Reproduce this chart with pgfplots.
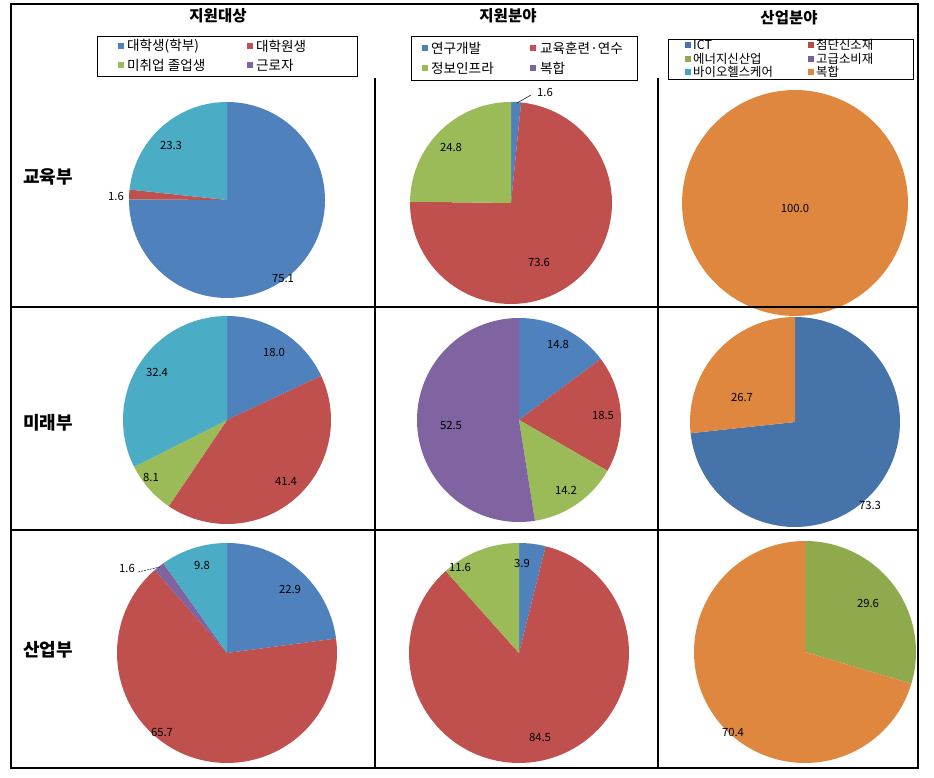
\documentclass[border=0pt]{standalone}
\usepackage{pgfplots}
\pgfplotsset{compat=1.18}
\usepackage{fontspec}
\setmainfont{Noto Sans CJK KR}
\definecolor{cBlue}{HTML}{4F81BD}
\definecolor{cRed}{HTML}{C0504D}
\definecolor{cGreen}{HTML}{9BBB59}
\definecolor{cPurple}{HTML}{8064A2}
\definecolor{cCyan}{HTML}{4BACC6}
\definecolor{dBlue}{HTML}{4573AA}
\definecolor{dGreen}{HTML}{8EAA4D}
\definecolor{dOrange}{HTML}{E0873F}
\definecolor{dRed}{HTML}{B84A48}
\definecolor{dPurple}{HTML}{7A5E9C}
\definecolor{dCyan}{HTML}{46A5BE}

% slices: value/colour pairs, clockwise from 12 o'clock, shares of their total
\newcommand{\pieslices}[1]{%
  \gdef\pietotal{0}%
  \foreach \v/\c in {#1}{%
    \pgfmathsetmacro\newtot{\pietotal+\v}%
    \xdef\pietotal{\newtot}%
  }%
  \pgfmathsetmacro\piek{100/\pietotal}%
  \xdef\piek{\piek}%
  \gdef\cumsum{0}%
  \foreach \v/\c in {#1}{%
    \pgfmathsetmacro\aA{90-3.6*\cumsum*\piek}%
    \pgfmathsetmacro\newcum{\cumsum+\v}%
    \xdef\cumsum{\newcum}%
    \pgfmathsetmacro\aB{90-3.6*\cumsum*\piek}%
    \edef\doslice{\noexpand\addplot[draw=none, fill=\c, domain=\aB:\aA, samples=90, variable=\noexpand\t]
      ({cos(\noexpand\t)},{sin(\noexpand\t)}) -- (axis cs:0,0) -- cycle;}%
    \doslice
  }%
}
% pie: centre x, centre y (pixels from top-left), radius, slices
\newcommand{\pie}[4]{%
  \pgfmathsetmacro\dd{2*#3}%
  \pgfmathsetmacro\yy{777-#2}%
  \begin{axis}[hide axis, scale only axis, width=\dd pt, height=\dd pt,
    xmin=-1, xmax=1, ymin=-1, ymax=1, at={(#1pt,\yy pt)}, anchor=center, clip=false]
    \pieslices{#4}
  \end{axis}%
}
\newcommand{\lab}{\fontsize{11.3}{13}\selectfont}
\newcommand{\legA}{\fontsize{13.6}{15}\selectfont}
\newcommand{\legC}{\fontsize{12.4}{13}\selectfont}
\newcommand{\legsq}[3]{% x, y, colour
  \fill[#3] (#1,#2-3) rectangle ++(6,6);}

\begin{document}
\begin{tikzpicture}
\useasboundingbox (0,0) rectangle (934pt,777pt);

% ---- pies ----
\pie{227}{200}{98}{75.1/cBlue, 1.6/cRed, 23.3/cCyan}
\pie{511}{203}{101}{1.6/cBlue, 73.6/cRed, 24.8/cGreen}
\pie{795}{203}{113}{100.0/dOrange}
\pie{227}{420}{104}{18.0/cBlue, 41.4/cRed, 8.1/cGreen, 32.4/cCyan}
\pie{519}{420}{102}{14.8/cBlue, 18.5/cRed, 14.2/cGreen, 52.5/cPurple}
\pie{795}{422}{105}{73.3/dBlue, 26.7/dOrange}
\pie{227}{653}{110}{22.9/cBlue, 65.7/cRed, 1.6/cPurple, 9.8/cCyan}
\pie{519}{653}{110}{3.9/cBlue, 84.5/cRed, 11.6/cGreen}
\pie{805}{652}{111}{29.6/dGreen, 70.4/dOrange}

\begin{scope}[x=1pt, y=-1pt, yshift=777pt]
% ---- grid ----
\draw[line width=1.6pt] (11,4) rectangle (918,768);
\draw[line width=1.6pt] (375,78) -- (375,768);
\draw[line width=1.6pt] (658,78) -- (658,768);
\draw[line width=1.6pt] (11,307) -- (918,307);
\draw[line width=1.6pt] (11,530) -- (918,530);

% ---- titles ----
\node[font=\fontsize{15.5}{17}\selectfont\bfseries] at (218,16) {지원대상};
\node[font=\fontsize{15.5}{17}\selectfont\bfseries] at (508,16) {지원분야};
\node[font=\fontsize{15.5}{17}\selectfont\bfseries] at (789,18) {산업분야};
\node[font=\fontsize{18}{20}\selectfont\bfseries] at (48,177) {교육부};
\node[font=\fontsize{18}{20}\selectfont\bfseries] at (48,423) {미래부};
\node[font=\fontsize{18}{20}\selectfont\bfseries] at (48,650) {산업부};

% ---- legends ----
\draw[line width=0.8pt] (97,36) rectangle (357,76);
\legsq{118}{46}{cBlue}\node[anchor=west,inner sep=0pt,font=\legA] at (127,46) {대학생(학부)};
\legsq{247}{46}{cRed}\node[anchor=west,inner sep=0pt,font=\legA] at (256,46) {대학원생};
\legsq{118}{65}{cGreen}\node[anchor=west,inner sep=0pt,font=\legA] at (127,65) {미취업 졸업생};
\legsq{247}{65}{cPurple}\node[anchor=west,inner sep=0pt,font=\legA] at (256,65) {근로자};

\draw[line width=0.8pt] (411,36) rectangle (637,80);
\legsq{422}{48}{cBlue}\node[anchor=west,inner sep=0pt,font=\legA] at (431,48) {연구개발};
\legsq{530}{48}{cRed}\node[anchor=west,inner sep=0pt,font=\legA] at (540,48) {교육훈련·연수};
\legsq{422}{68}{cGreen}\node[anchor=west,inner sep=0pt,font=\legA] at (431,68) {정보인프라};
\legsq{530}{68}{cPurple}\node[anchor=west,inner sep=0pt,font=\legA] at (540,68) {복합};

\draw[line width=0.8pt] (668,39) rectangle (913,79);
\legsq{685}{45}{dBlue}\node[anchor=west,inner sep=0pt,font=\legC] at (693,45) {ICT};
\legsq{808}{45}{dRed}\node[anchor=west,inner sep=0pt,font=\legC] at (816,45) {첨단신소재};
\legsq{685}{59}{dGreen}\node[anchor=west,inner sep=0pt,font=\legC] at (693,59) {에너지신산업};
\legsq{808}{59}{dPurple}\node[anchor=west,inner sep=0pt,font=\legC] at (816,59) {고급소비재};
\legsq{685}{72}{dCyan}\node[anchor=west,inner sep=0pt,font=\legC] at (693,72) {바이오헬스케어};
\legsq{808}{72}{dOrange}\node[anchor=west,inner sep=0pt,font=\legC] at (816,72) {복합};

% ---- data labels ----
\node[font=\lab] at (171,145) {23.3};
\node[font=\lab] at (116,196) {1.6};
\node[font=\lab] at (283,279) {75.1};
\draw[line width=0.5pt] (517,103) -- (531,95);
\node[font=\lab] at (545,92) {1.6};
\node[font=\lab] at (451,147) {24.8};
\node[font=\lab] at (539,262) {73.6};
\node[font=\lab] at (795,208) {100.0};

\node[font=\lab] at (274,352) {18.0};
\node[font=\lab] at (157,372) {32.4};
\node[font=\lab] at (151,477) {8.1};
\node[font=\lab] at (286,482) {41.4};
\node[font=\lab] at (558,344) {14.8};
\node[font=\lab] at (603,415) {18.5};
\node[font=\lab] at (451,425) {52.5};
\node[font=\lab] at (566,490) {14.2};
\node[font=\lab] at (742,397) {26.7};
\node[font=\lab] at (870,505) {73.3};

\draw[line width=0.5pt, dash pattern=on 2pt off 1pt] (138,572) -- (160,567);
\node[font=\lab] at (127,568) {1.6};
\node[font=\lab] at (202,565) {9.8};
\node[font=\lab] at (290,589) {22.9};
\node[font=\lab] at (162,732) {65.7};
\node[font=\lab] at (522,563) {3.9};
\node[font=\lab] at (460,567) {11.6};
\node[font=\lab] at (540,737) {84.5};
\node[font=\lab] at (868,603) {29.6};
\node[font=\lab] at (733,732) {70.4};
\end{scope}
\end{tikzpicture}
\end{document}
